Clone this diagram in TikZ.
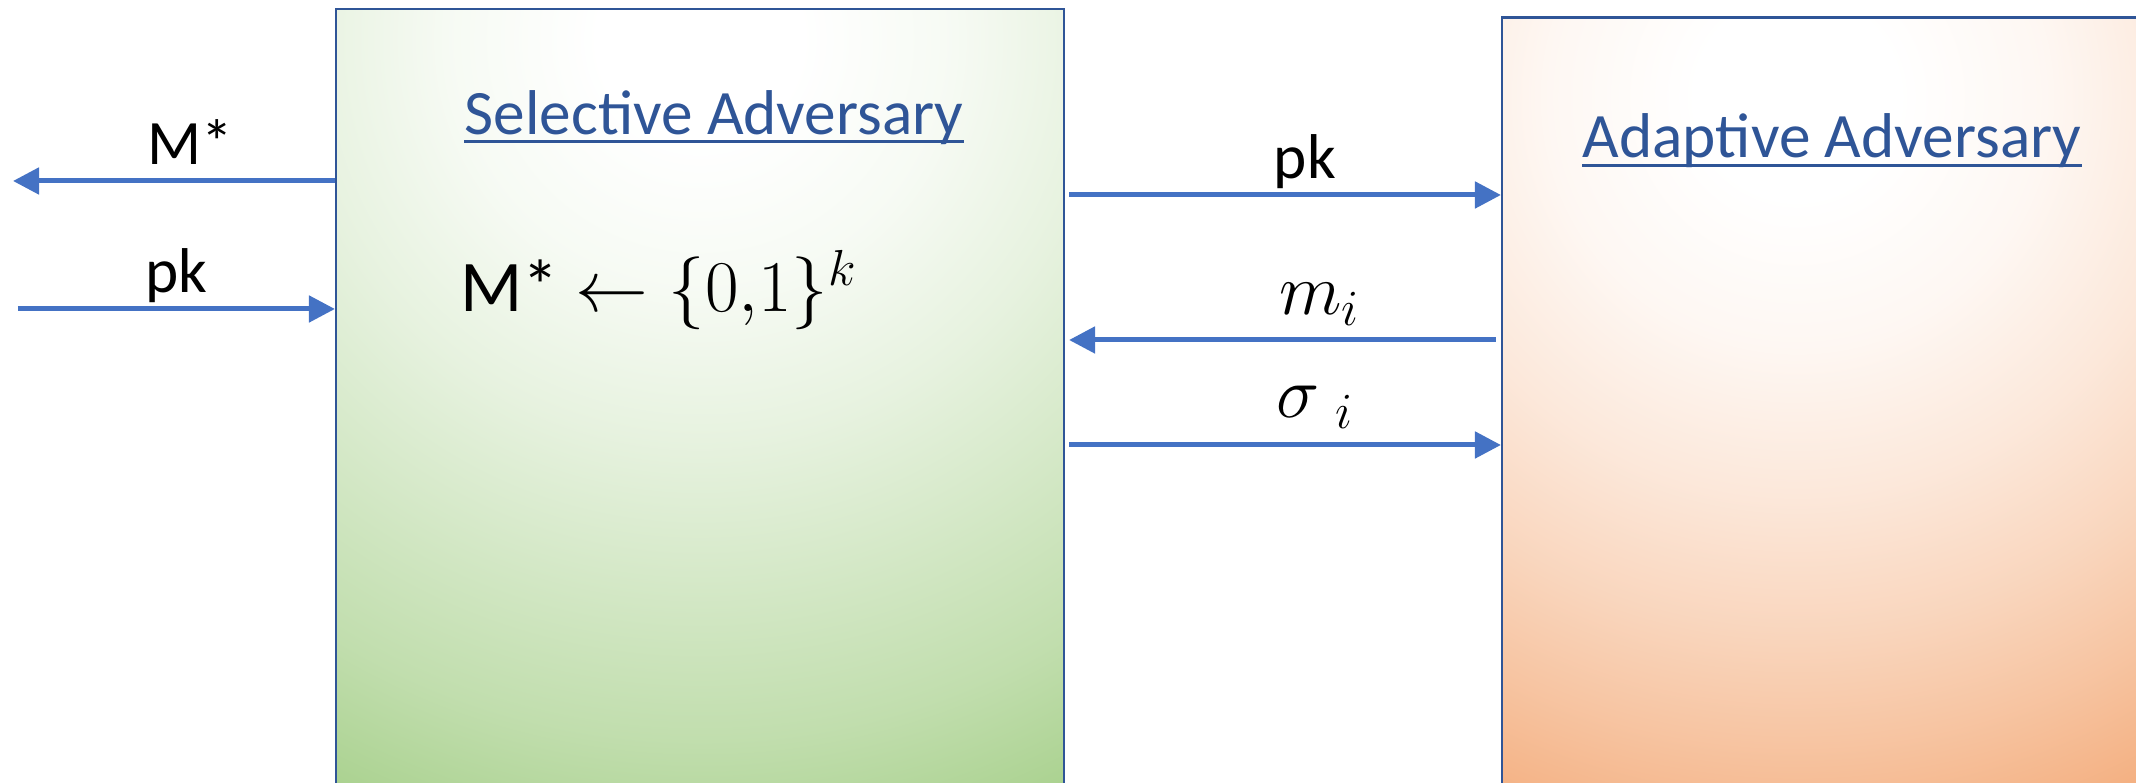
\documentclass[tikz,border=0pt]{standalone}
\usepackage{fontspec}
\setmainfont{Carlito}
\usetikzlibrary{positioning, arrows.meta}
\definecolor{boxblue}{HTML}{2F5597}
\definecolor{arrowblue}{HTML}{4472C4}
\definecolor{selgreen}{HTML}{A9D18E}
\definecolor{adaorange}{HTML}{F4B183}
\pgfdeclareradialshading{selglow}{\pgfpoint{0cm}{0cm}}{%
  color(0cm)=(white); color(1cm)=(white); color(2.5cm)=(selgreen!10);
  color(4cm)=(selgreen!28); color(5.5cm)=(selgreen!50); color(7cm)=(selgreen!72);
  color(8.4cm)=(selgreen); color(9cm)=(selgreen)}
\pgfdeclareradialshading{adaglow}{\pgfpoint{0cm}{0cm}}{%
  color(0cm)=(white); color(1cm)=(white); color(2.5cm)=(adaorange!10);
  color(4cm)=(adaorange!30); color(5.3cm)=(adaorange!52); color(6.5cm)=(adaorange!76);
  color(7.6cm)=(adaorange); color(8.5cm)=(adaorange)}

\begin{document}
\begin{tikzpicture}[font=\fontsize{18}{22}\selectfont,
    advbox/.style={draw=boxblue, line width=0.6pt, inner sep=0pt},
    advtitle/.style={text=boxblue, anchor=base, inner sep=0pt},
    msg/.style={draw=arrowblue, line width=0.05cm, -{Triangle[length=0.26cm, width=0.26cm]}},
    lbl/.style={anchor=base, yshift=0.16cm, inner sep=0pt},
    mathlbl/.style={lbl, font=\fontsize{20}{24}\selectfont}]
  \useasboundingbox (0,0) rectangle (21.36,7.83);
  \clip (0,0) rectangle (21.36,7.83);

  % the two adversaries
  \node[advbox, minimum width=7.28cm, minimum height=8.14cm,
        path picture={\path ([yshift=-3mm]path picture bounding box.north)
          node[inner sep=0pt] {\pgfuseshading{selglow}};}]
        (sel) at (7.00,3.67) {};
  \node[advbox, minimum width=6.50cm, minimum height=8.05cm,
        path picture={\path ([xshift=-3mm, yshift=-8mm]path picture bounding box.north)
          node[inner sep=0pt] {\pgfuseshading{adaglow}};}]
        (ada) at (18.27,3.63) {};

  \node[advtitle] (seltitle) at (7.14,6.48) {Selective Adversary};
  \node[advtitle] (adatitle) at (18.32,6.25) {Adaptive Adversary};
  \draw[boxblue, line width=0.03cm] ([yshift=-0.07cm]seltitle.base west) -- ([yshift=-0.07cm]seltitle.base east);
  \draw[boxblue, line width=0.03cm] ([yshift=-0.08cm]adatitle.base west) -- ([yshift=-0.08cm]adatitle.base east);

  \node[anchor=base west, inner sep=0pt, font=\fontsize{20.7}{25}\selectfont] (mstar) at (4.60,4.71)
    {M* $\leftarrow \{0{,}1\}^k$};

  % message rows
  \coordinate (rowM) at (0.13,6.02);
  \coordinate (rowpkin) at (0.18,4.74);
  \coordinate (rowpk) at (0,5.88);
  \coordinate (rowm) at (0,4.43);
  \coordinate (rowsig) at (0,3.38);

  \draw[msg] (sel.west |- rowM) -- (rowM) node[lbl, pos=0.45] (lblM) {M*};
  \draw[msg] (rowpkin) -- (sel.west |- rowpkin) node[lbl, pos=0.5] (lblpkin) {pk};
  \draw[msg, shorten <=0.04cm] (sel.east |- rowpk) -- (ada.west |- rowpk)
    node[lbl, pos=0.55] (lblpk) {pk};
  \draw[msg, shorten <=0.05cm, shorten >=0.04cm] (ada.west |- rowm) -- (sel.east |- rowm)
    node[mathlbl, pos=0.415, yshift=0.09cm] (lblm) {$m_i$};
  \draw[msg, shorten <=0.04cm] (sel.east |- rowsig) -- (ada.west |- rowsig)
    node[mathlbl, pos=0.575, yshift=0.11cm] (lblsig) {$\sigma\ {}_i$};
\end{tikzpicture}
\end{document}
